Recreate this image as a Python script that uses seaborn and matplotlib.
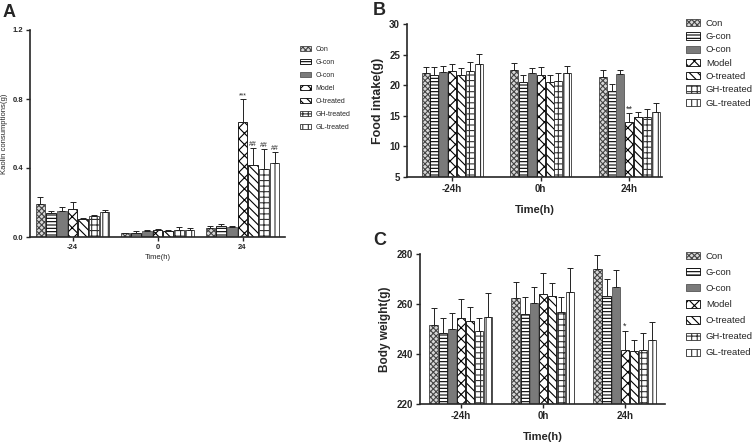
import numpy as np
import pandas as pd
import matplotlib
matplotlib.use("Agg")
import matplotlib.pyplot as plt
from matplotlib.ticker import FormatStrFormatter
import seaborn as sns

# ---- data ----
groups = ["Con", "G-con", "O-con", "Model", "O-treated", "GH-treated", "GL-treated"]
times_a = ["-24", "0", "24"]
times_bc = ["-24h", "0h", "24h"]

# kaolin consumption (g), one list per group over the three time points
kaolin_mean = [
    [0.191, 0.021, 0.052],
    [0.141, 0.025, 0.062],
    [0.151, 0.035, 0.056],
    [0.162, 0.039, 0.665],
    [0.104, 0.033, 0.417],
    [0.124, 0.041, 0.394],
    [0.145, 0.043, 0.431],
]
kaolin_err = [
    [0.043, 0.003, 0.010],
    [0.012, 0.008, 0.013],
    [0.021, 0.006, 0.008],
    [0.039, 0.005, 0.133],
    [0.008, 0.006, 0.097],
    [0.005, 0.015, 0.114],
    [0.013, 0.007, 0.060],
]

# food intake (g)
food_mean = [
    [22.05, 22.54, 21.34],
    [21.72, 20.52, 19.05],
    [22.16, 22.05, 21.83],
    [22.37, 21.61, 13.99],
    [21.67, 20.58, 14.86],
    [22.27, 20.74, 14.86],
    [23.46, 21.94, 15.68],
]
food_err = [
    [0.92, 1.09, 1.20],
    [1.20, 1.20, 1.20],
    [0.92, 0.76, 0.65],
    [1.03, 1.36, 1.41],
    [1.09, 1.14, 0.71],
    [1.47, 1.20, 1.25],
    [1.64, 1.14, 1.36],
]

# body weight (g)
weight_mean = [
    [251.6, 262.3, 274.0],
    [248.3, 256.1, 263.1],
    [249.9, 260.4, 267.0],
    [254.4, 263.9, 241.6],
    [253.4, 263.1, 241.1],
    [249.1, 256.9, 241.5],
    [254.8, 264.7, 245.7],
]
weight_err = [
    [6.7, 6.6, 5.7],
    [6.3, 6.8, 7.0],
    [6.7, 6.5, 6.6],
    [7.8, 8.5, 7.6],
    [5.5, 5.4, 4.5],
    [5.5, 6.1, 7.1],
    [9.5, 9.8, 7.0],
]

# significance marks: (group index, time index, text)
marks_a = [(3, 2, "***"), (4, 2, "##"), (5, 2, "##"), (6, 2, "##")]
marks_b = [(3, 2, "**")]
marks_c = [(3, 2, "*")]

# ---- styling ----
hatches = ["xxxxxx", "-----", "", "xxx", "\\\\\\\\", "+++", "|||"]
faces = ["#d8d8d8", "white", "#7a7a7a", "white", "white", "white", "white"]
edges = ["#444444", "black", "#555555", "black", "black", "#333333", "#333333"]

sns.set_style("ticks")
plt.rcParams["font.family"] = ["Liberation Sans", "DejaVu Sans"]
plt.rcParams["hatch.linewidth"] = 0.8


def draw_panel(ax, times, means, errs, marks, width, fs_tick):
    rows = []
    for g, m in zip(groups, means):
        for t, v in zip(times, m):
            rows.append({"time": t, "group": g, "value": v})
    df = pd.DataFrame(rows)
    palette = dict(zip(groups, faces))
    sns.barplot(data=df, x="time", y="value", hue="group", order=times,
                hue_order=groups, palette=palette, width=width, gap=0.1,
                saturation=1, errorbar=None, legend=False, ax=ax, zorder=2)
    bars = list(ax.containers)
    for i, cont in enumerate(bars):
        for p in cont.patches:
            p.set_hatch(hatches[i])
            p.set_edgecolor(edges[i])
            p.set_linewidth(0.6)
        xs = [p.get_x() + p.get_width() / 2 for p in cont.patches]
        ax.errorbar(xs, means[i], yerr=[np.zeros(len(xs)), errs[i]], fmt="none",
                    ecolor="#222222", elinewidth=0.7, capsize=2, capthick=0.7, zorder=3)
    for gi, ti, txt in marks:
        p = bars[gi].patches[ti]
        ax.text(p.get_x() + p.get_width() / 2, means[gi][ti] + errs[gi][ti],
                txt, ha="center", va="bottom", fontsize=fs_tick - 0.5, zorder=4)
    for s in ["top", "right"]:
        ax.spines[s].set_visible(False)
    for s in ["left", "bottom"]:
        ax.spines[s].set_linewidth(1.2)
    ax.tick_params(axis="both", length=3, width=1.0, labelsize=fs_tick, pad=2)
    return bars


def bold_ticks(ax):
    for lab in ax.get_xticklabels() + ax.get_yticklabels():
        lab.set_fontweight("bold")


def add_legend(ax, bars, x, y, fs, spacing, hl):
    ax.legend(handles=[c.patches[0] for c in bars], labels=groups, loc="upper left",
              bbox_to_anchor=(x, y), bbox_transform=ax.figure.transFigure,
              frameon=False, fontsize=fs, handlelength=hl, handleheight=0.8,
              handletextpad=0.6, labelspacing=spacing, borderaxespad=0, borderpad=0)


fig = plt.figure(figsize=(7.53, 4.47), dpi=100)
W, H = 753.0, 447.0

# panel A
axA = fig.add_axes([30 / W, 1 - 237 / H, 255 / W, 207 / H])
barsA = draw_panel(axA, times_a, kaolin_mean, kaolin_err, marks_a, 0.88, 5.5)
axA.set_xlim(-0.5, 2.5)
axA.set_ylim(0, 1.2)
axA.set_yticks([0, 0.4, 0.8, 1.2])
axA.yaxis.set_major_formatter(FormatStrFormatter("%.1f"))
axA.set_xlabel("Time(h)", fontsize=5.5, labelpad=2)
axA.set_ylabel("Kaolin consumptions(g)", fontsize=5.5, labelpad=3)
bold_ticks(axA)
add_legend(axA, barsA, 300 / W, 1 - 46 / H, 5, 0.85, 1.6)

# panel B
axB = fig.add_axes([407 / W, 1 - 177 / H, 255 / W, 153 / H])
barsB = draw_panel(axB, times_bc, food_mean, food_err, marks_b, 0.70, 7)
axB.set_xlim(-0.51, 2.37)
axB.set_ylim(5, 30)
axB.set_yticks([5, 10, 15, 20, 25, 30])
axB.set_xlabel("Time(h)", fontsize=8, fontweight="bold", labelpad=8)
axB.set_ylabel("Food intake(g)", fontsize=9, fontweight="bold", labelpad=4)
bold_ticks(axB)
add_legend(axB, barsB, 686 / W, 1 - 19 / H, 6.8, 0.45, 1.5)

# panel C
axC = fig.add_axes([420 / W, 1 - 404 / H, 245 / W, 150 / H])
barsC = draw_panel(axC, times_bc, weight_mean, weight_err, marks_c, 0.78, 7)
axC.set_xlim(-0.5, 2.49)
axC.set_ylim(220, 280)
axC.set_yticks([220, 240, 260, 280])
axC.set_xlabel("Time(h)", fontsize=8, fontweight="bold", labelpad=8)
axC.set_ylabel("Body weight(g)", fontsize=8.5, fontweight="bold", labelpad=4)
bold_ticks(axC)
add_legend(axC, barsC, 686 / W, 1 - 252 / H, 6.8, 0.75, 1.5)

# panel letters
fig.text(3 / W, 1 - 4 / H, "A", fontsize=13, fontweight="bold", va="top")
fig.text(373 / W, 1 - 2 / H, "B", fontsize=13, fontweight="bold", va="top")
fig.text(373 / W, 1 - 232 / H, "C", fontsize=13, fontweight="bold", va="top")

fig.savefig("out.png", dpi=100)
